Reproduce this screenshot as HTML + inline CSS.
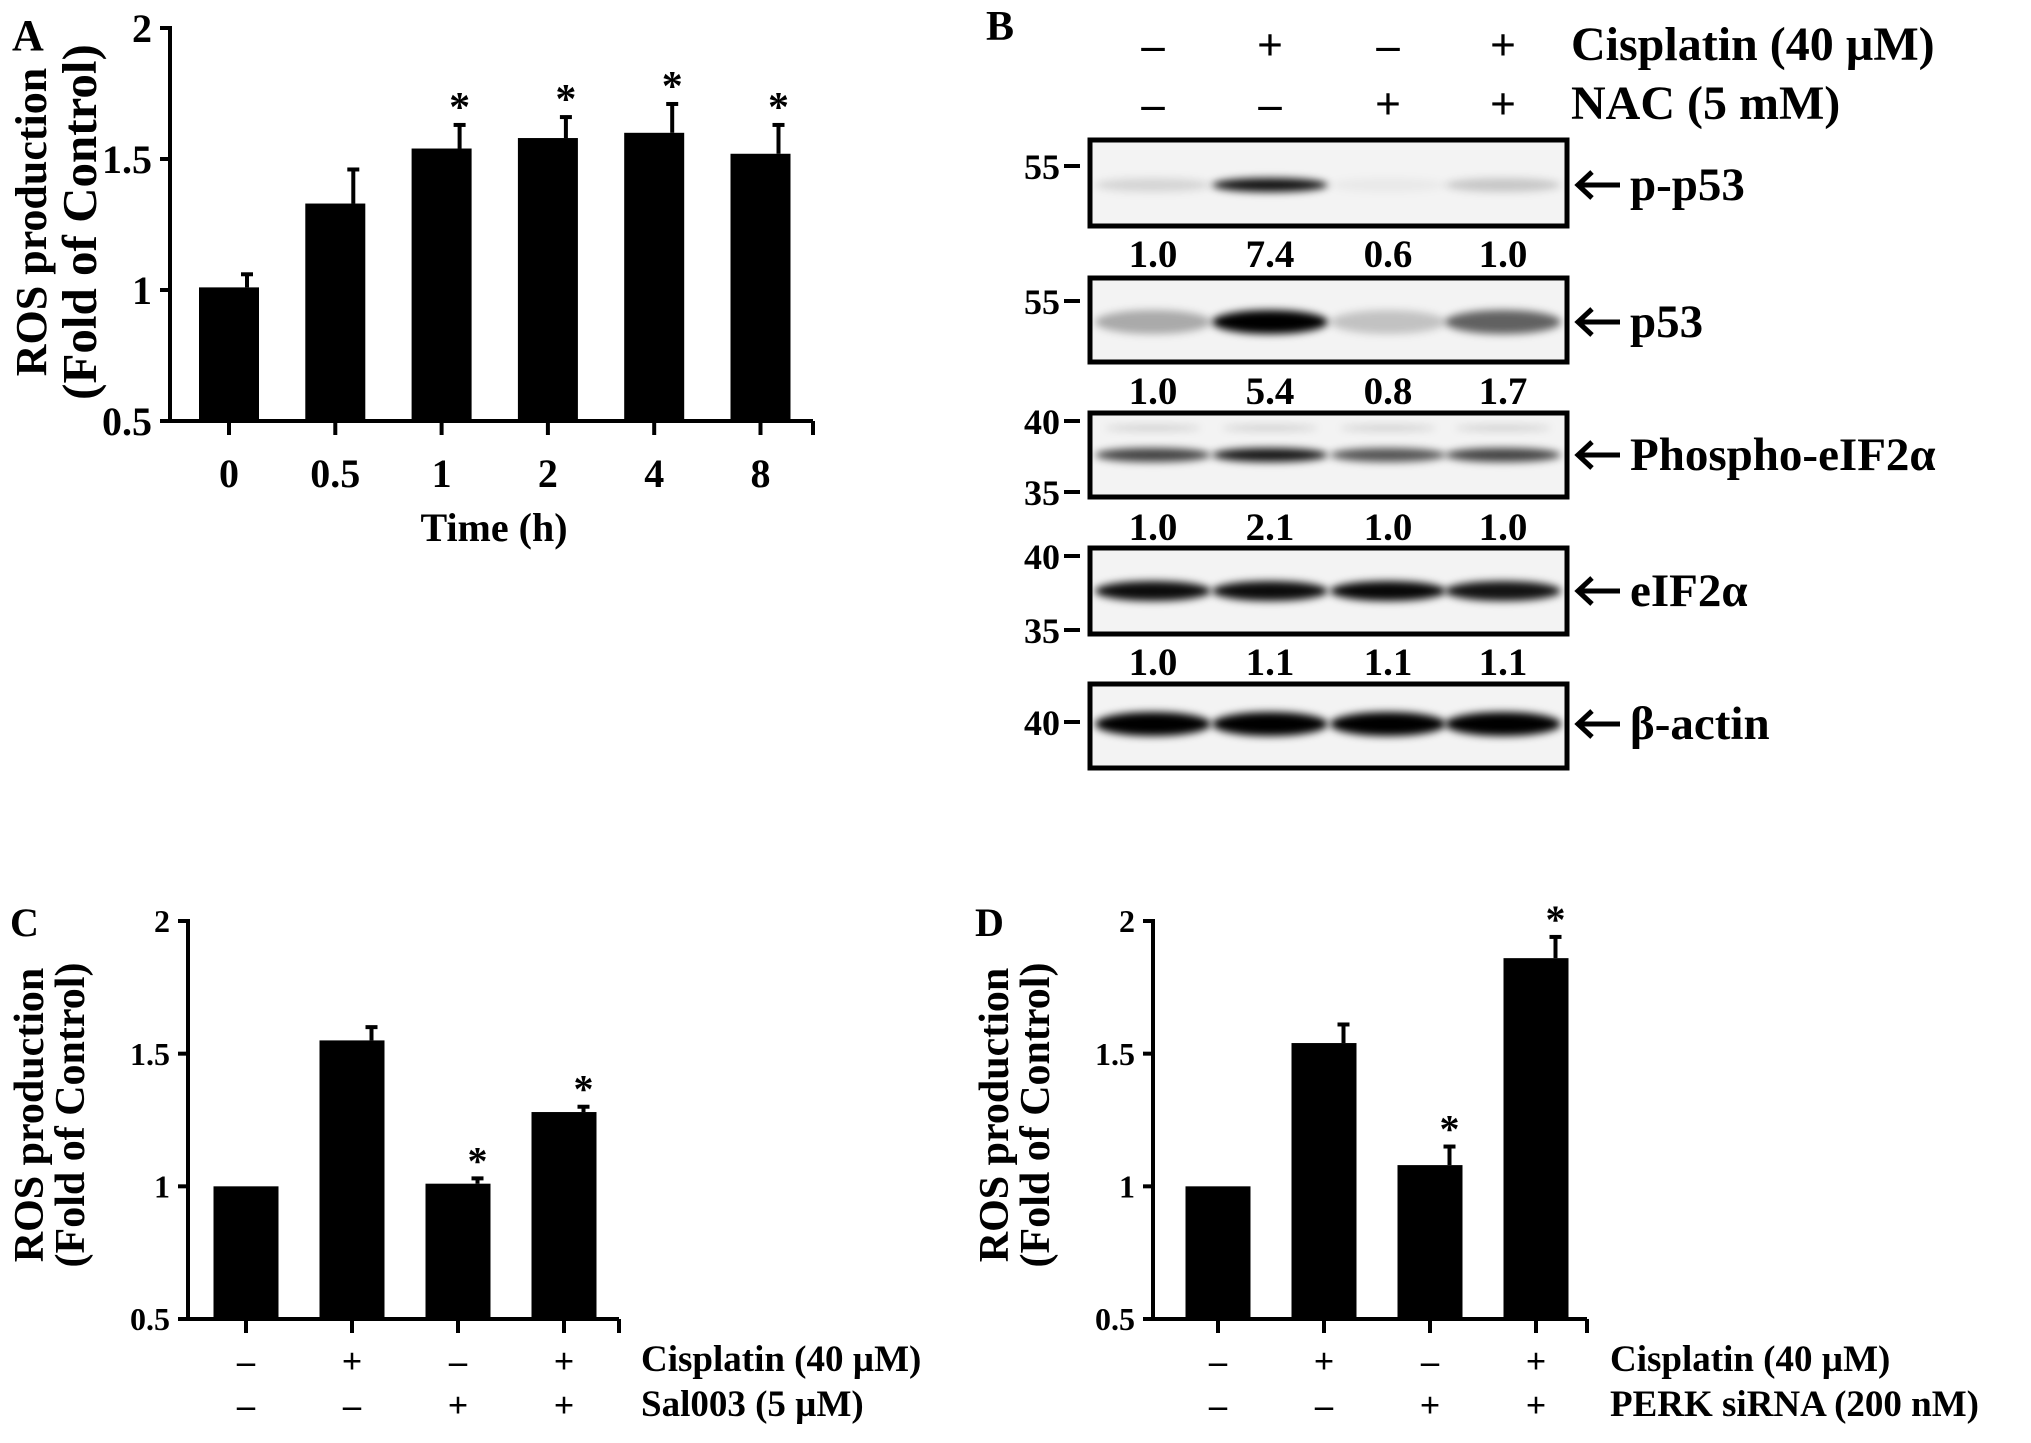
<!DOCTYPE html>
<html><head><meta charset="utf-8">
<style>
html,body{margin:0;padding:0;background:#fff;}
svg{display:block;font-family:"Liberation Serif",serif;font-weight:bold;}
</style></head>
<body>
<svg id="fig" width="2031" height="1443" viewBox="0 0 2031 1443" xmlns="http://www.w3.org/2000/svg">
<defs>
<filter id="blur" x="-20%" y="-150%" width="140%" height="400%"><feGaussianBlur stdDeviation="4"/></filter>
</defs>
<g id="panelA"></g>
<g id="panelB"></g>
<g id="panelC"></g>
<g id="panelD"></g>
</svg>
<script>
// Panel A data
const aCategories = ["0","0.5","1","2","4","8"];
const aValues = [1.01,1.33,1.54,1.58,1.60,1.52];
const aErrTop = [1.06,1.46,1.63,1.66,1.71,1.63];
const aStars = [false,false,true,true,true,true];
const yTicks = [0.5,1,1.5,2];
const yTickLabels = ["0.5","1","1.5","2"];
// Panel C data
const cValues = [1.0,1.55,1.01,1.28];
const cErrTop = [1.0,1.60,1.03,1.30];
const cStars = [false,false,true,true];
const cRow1 = ["\u2013","+","\u2013","+"];
const cRow2 = ["\u2013","\u2013","+","+"];
// Panel D data
const dValues = [1.0,1.54,1.08,1.86];
const dErrTop = [1.0,1.61,1.15,1.94];
const dStars = [false,false,true,true];
const dRow1 = ["\u2013","+","\u2013","+"];
const dRow2 = ["\u2013","\u2013","+","+"];
// Panel B data
const bCis = ["\u2013","+","\u2013","+"];
const bNac = ["\u2013","\u2013","+","+"];
const blotNames = ["p-p53","p53","Phospho-eIF2\u03b1","eIF2\u03b1","\u03b2-actin"];
const blotIntensity = [[0.12,0.92,0.04,0.18],[0.3,1.0,0.2,0.6],[0.72,0.9,0.65,0.72],[0.95,0.95,0.97,0.92],[1,1,1,1]];
const blotQuant = [["1.0","7.4","0.6","1.0"],["1.0","5.4","0.8","1.7"],["1.0","2.1","1.0","1.0"],["1.0","1.1","1.1","1.1"]];

const NS="http://www.w3.org/2000/svg";
function mk(parent,tag,attrs,text){
  const e=document.createElementNS(NS,tag);
  for(const k in attrs) e.setAttribute(k,attrs[k]);
  if(text!==undefined) e.textContent=text;
  parent.appendChild(e);
  return e;
}

function barChart(g,cfg){
  const y=v=>cfg.y0-(v-0.5)/1.5*(cfg.y0-cfg.y2);
  const x=i=>cfg.x0+cfg.first+i*cfg.step;
  cfg.values.forEach((v,i)=>{
    const r=mk(g,"rect",{x:x(i)-cfg.bw/2,y:y(v),width:cfg.bw,height:cfg.y0-y(v),fill:"#000"});
    
    
    if(cfg.err[i]>v){
      const l=mk(g,"line",{x1:x(i)+cfg.bw*0.3,x2:x(i)+cfg.bw*0.3,y1:y(v),y2:y(cfg.err[i]),stroke:"#000","stroke-width":4});
      
      
      mk(g,"line",{x1:x(i)+cfg.bw*0.3-6,x2:x(i)+cfg.bw*0.3+6,y1:y(cfg.err[i]),y2:y(cfg.err[i]),stroke:"#000","stroke-width":4});
    }
    if(cfg.stars[i]){
      const s=mk(g,"text",{x:x(i)+cfg.bw*0.3,y:y(cfg.err[i])+cfg.starOff,"font-size":cfg.starSize,"text-anchor":"middle"},"*");
      
      
    }
  });
  const ya=mk(g,"line",{x1:cfg.x0,x2:cfg.x0,y1:cfg.y2-2,y2:cfg.y0+2,stroke:"#000","stroke-width":4});
  
  
  const xa=mk(g,"line",{x1:cfg.x0,x2:cfg.x1,y1:cfg.y0,y2:cfg.y0,stroke:"#000","stroke-width":4});
  
  
  mk(g,"line",{x1:cfg.x1,x2:cfg.x1,y1:cfg.y0,y2:cfg.y0+14,stroke:"#000","stroke-width":4});
  yTicks.forEach((t,i)=>{
    mk(g,"line",{x1:cfg.x0-10,x2:cfg.x0,y1:y(t),y2:y(t),stroke:"#000","stroke-width":4});
    const tl=mk(g,"text",{x:cfg.x0-18,y:y(t)+cfg.tickSize*0.35,"font-size":cfg.tickSize,"text-anchor":"end"},yTickLabels[i]);
    
    
  });
  cfg.values.forEach((v,i)=>{
    mk(g,"line",{x1:x(i),x2:x(i),y1:cfg.y0,y2:cfg.y0+14,stroke:"#000","stroke-width":4});
  });
  return x;
}

// Panel A
(function(){
  const g=document.getElementById("panelA");
  const x=barChart(g,{x0:170,x1:813,y0:421,y2:28,first:59,step:106.3,bw:60,values:aValues,err:aErrTop,stars:aStars,starSize:42,starOff:-4,tickSize:40});
  aCategories.forEach((c,i)=>{
    const t=mk(g,"text",{x:x(i),y:487,"font-size":40,"text-anchor":"middle"},c);
    
    
  });
  const xt=mk(g,"text",{x:494,y:541,"font-size":40,"text-anchor":"middle"},"Time (h)");
  
  
  const yt=mk(g,"text",{transform:"translate(46,222) rotate(-90)","font-size":44,"text-anchor":"middle"},"ROS production");
  
  
  mk(g,"text",{transform:"translate(96,222) rotate(-90)","font-size":49,"text-anchor":"middle"},"(Fold of Control)");
  const lab=mk(g,"text",{x:12,y:50,"font-size":44},"A");
  
  
})();

// Panel C and D
function condPanel(id,letter,x0,x1,first,step,vals,err,stars,row1,row2,lab1,lab2,labX){
  const g=document.getElementById(id);
  const x=barChart(g,{x0:x0,x1:x1,y0:1319,y2:921,first:first,step:step,bw:65,values:vals,err:err,stars:stars,starSize:40,starOff:-4,tickSize:32});
  row1.forEach((s,i)=>{mk(g,"text",{x:x(i),y:1373,"font-size":36,"text-anchor":"middle"},s);});
  row2.forEach((s,i)=>{mk(g,"text",{x:x(i),y:1417,"font-size":36,"text-anchor":"middle"},s);});
  const l1=mk(g,"text",{x:labX,y:1371,"font-size":37},lab1);
  
  
  const l2=mk(g,"text",{x:labX,y:1416,"font-size":37},lab2);
  
  
  const yt=mk(g,"text",{transform:"translate("+(x0-145)+",1115) rotate(-90)","font-size":42,"text-anchor":"middle"},"ROS production");
  
  
  mk(g,"text",{transform:"translate("+(x0-104)+",1115) rotate(-90)","font-size":42,"text-anchor":"middle"},"(Fold of Control)");
  const pl=mk(g,"text",{x:x0-178,y:936,"font-size":40},letter);
  
  
}
condPanel("panelC","C",188,619,58,106,cValues,cErrTop,cStars,cRow1,cRow2,"Cisplatin (40 \u00b5M)","Sal003 (5 \u00b5M)",641);
condPanel("panelD","D",1153,1587,65,106,dValues,dErrTop,dStars,dRow1,dRow2,"Cisplatin (40 \u00b5M)","PERK siRNA (200 nM)",1610);

// Panel B (western blot)
(function(){
  const g=document.getElementById("panelB");
  const lanes=[1153,1270,1388,1503];
  const boxes=[[140,226],[278,362],[413,497],[548,634],[684,768]];
  const bandY=[185,322,455,591,724];
  const bandH=[14,24,14,20,24];
  const markers=[[["55",166]],[["55",301]],[["40",421],["35",492]],[["40",556],["35",630]],[["40",722]]];
  const pl=mk(g,"text",{x:986,y:40,"font-size":42},"B");
  
  
  bCis.forEach((s,i)=>{mk(g,"text",{x:lanes[i],y:60,"font-size":46,"text-anchor":"middle"},s);});
  bNac.forEach((s,i)=>{mk(g,"text",{x:lanes[i],y:119,"font-size":46,"text-anchor":"middle"},s);});
  const h1=mk(g,"text",{x:1571,y:60,"font-size":48},"Cisplatin (40 \u00b5M)");
  
  
  const h2=mk(g,"text",{x:1571,y:119,"font-size":48},"NAC (5 mM)");
  
  
  boxes.forEach((b,k)=>{
    const bg=mk(g,"g",{});
    
    
    mk(bg,"rect",{x:1090,y:b[0],width:477,height:b[1]-b[0],fill:"#f3f3f3"});
    if(k===2){
      lanes.forEach((lx)=>{mk(bg,"ellipse",{cx:lx,cy:428,rx:48,ry:3,fill:"#000","fill-opacity":0.15,filter:"url(#blur)"});});
    }
    blotIntensity[k].forEach((v,i)=>{
      const e=mk(bg,"ellipse",{cx:lanes[i],cy:bandY[k],rx:58,ry:bandH[k]/2,fill:"#000","fill-opacity":v,filter:"url(#blur)"});
      
      
    });
    mk(bg,"rect",{x:1090,y:b[0],width:477,height:b[1]-b[0],fill:"none",stroke:"#000","stroke-width":5});
    markers[k].forEach(m=>{
      mk(g,"text",{x:1060,y:m[1]+13,"font-size":36,"text-anchor":"end"},m[0]);
      mk(g,"line",{x1:1064,x2:1080,y1:m[1],y2:m[1],stroke:"#000","stroke-width":4});
    });
    const ay=bandY[k];
    const an=mk(g,"path",{d:"M1620 "+ay+" L1578 "+ay+" M1592 "+(ay-13)+" L1578 "+ay+" L1592 "+(ay+13),fill:"none",stroke:"#000","stroke-width":5});
    
    
    const nm=mk(g,"text",{x:1630,y:ay+15,"font-size":47},blotNames[k]);
    
    
  });
  const qy=[267,404,540,675];
  blotQuant.forEach((row,k)=>{
    row.forEach((q,i)=>{
      const t=mk(g,"text",{x:lanes[i],y:qy[k],"font-size":39,"text-anchor":"middle"},q);
      
      
    });
  });
})();
</script>
</body></html>
